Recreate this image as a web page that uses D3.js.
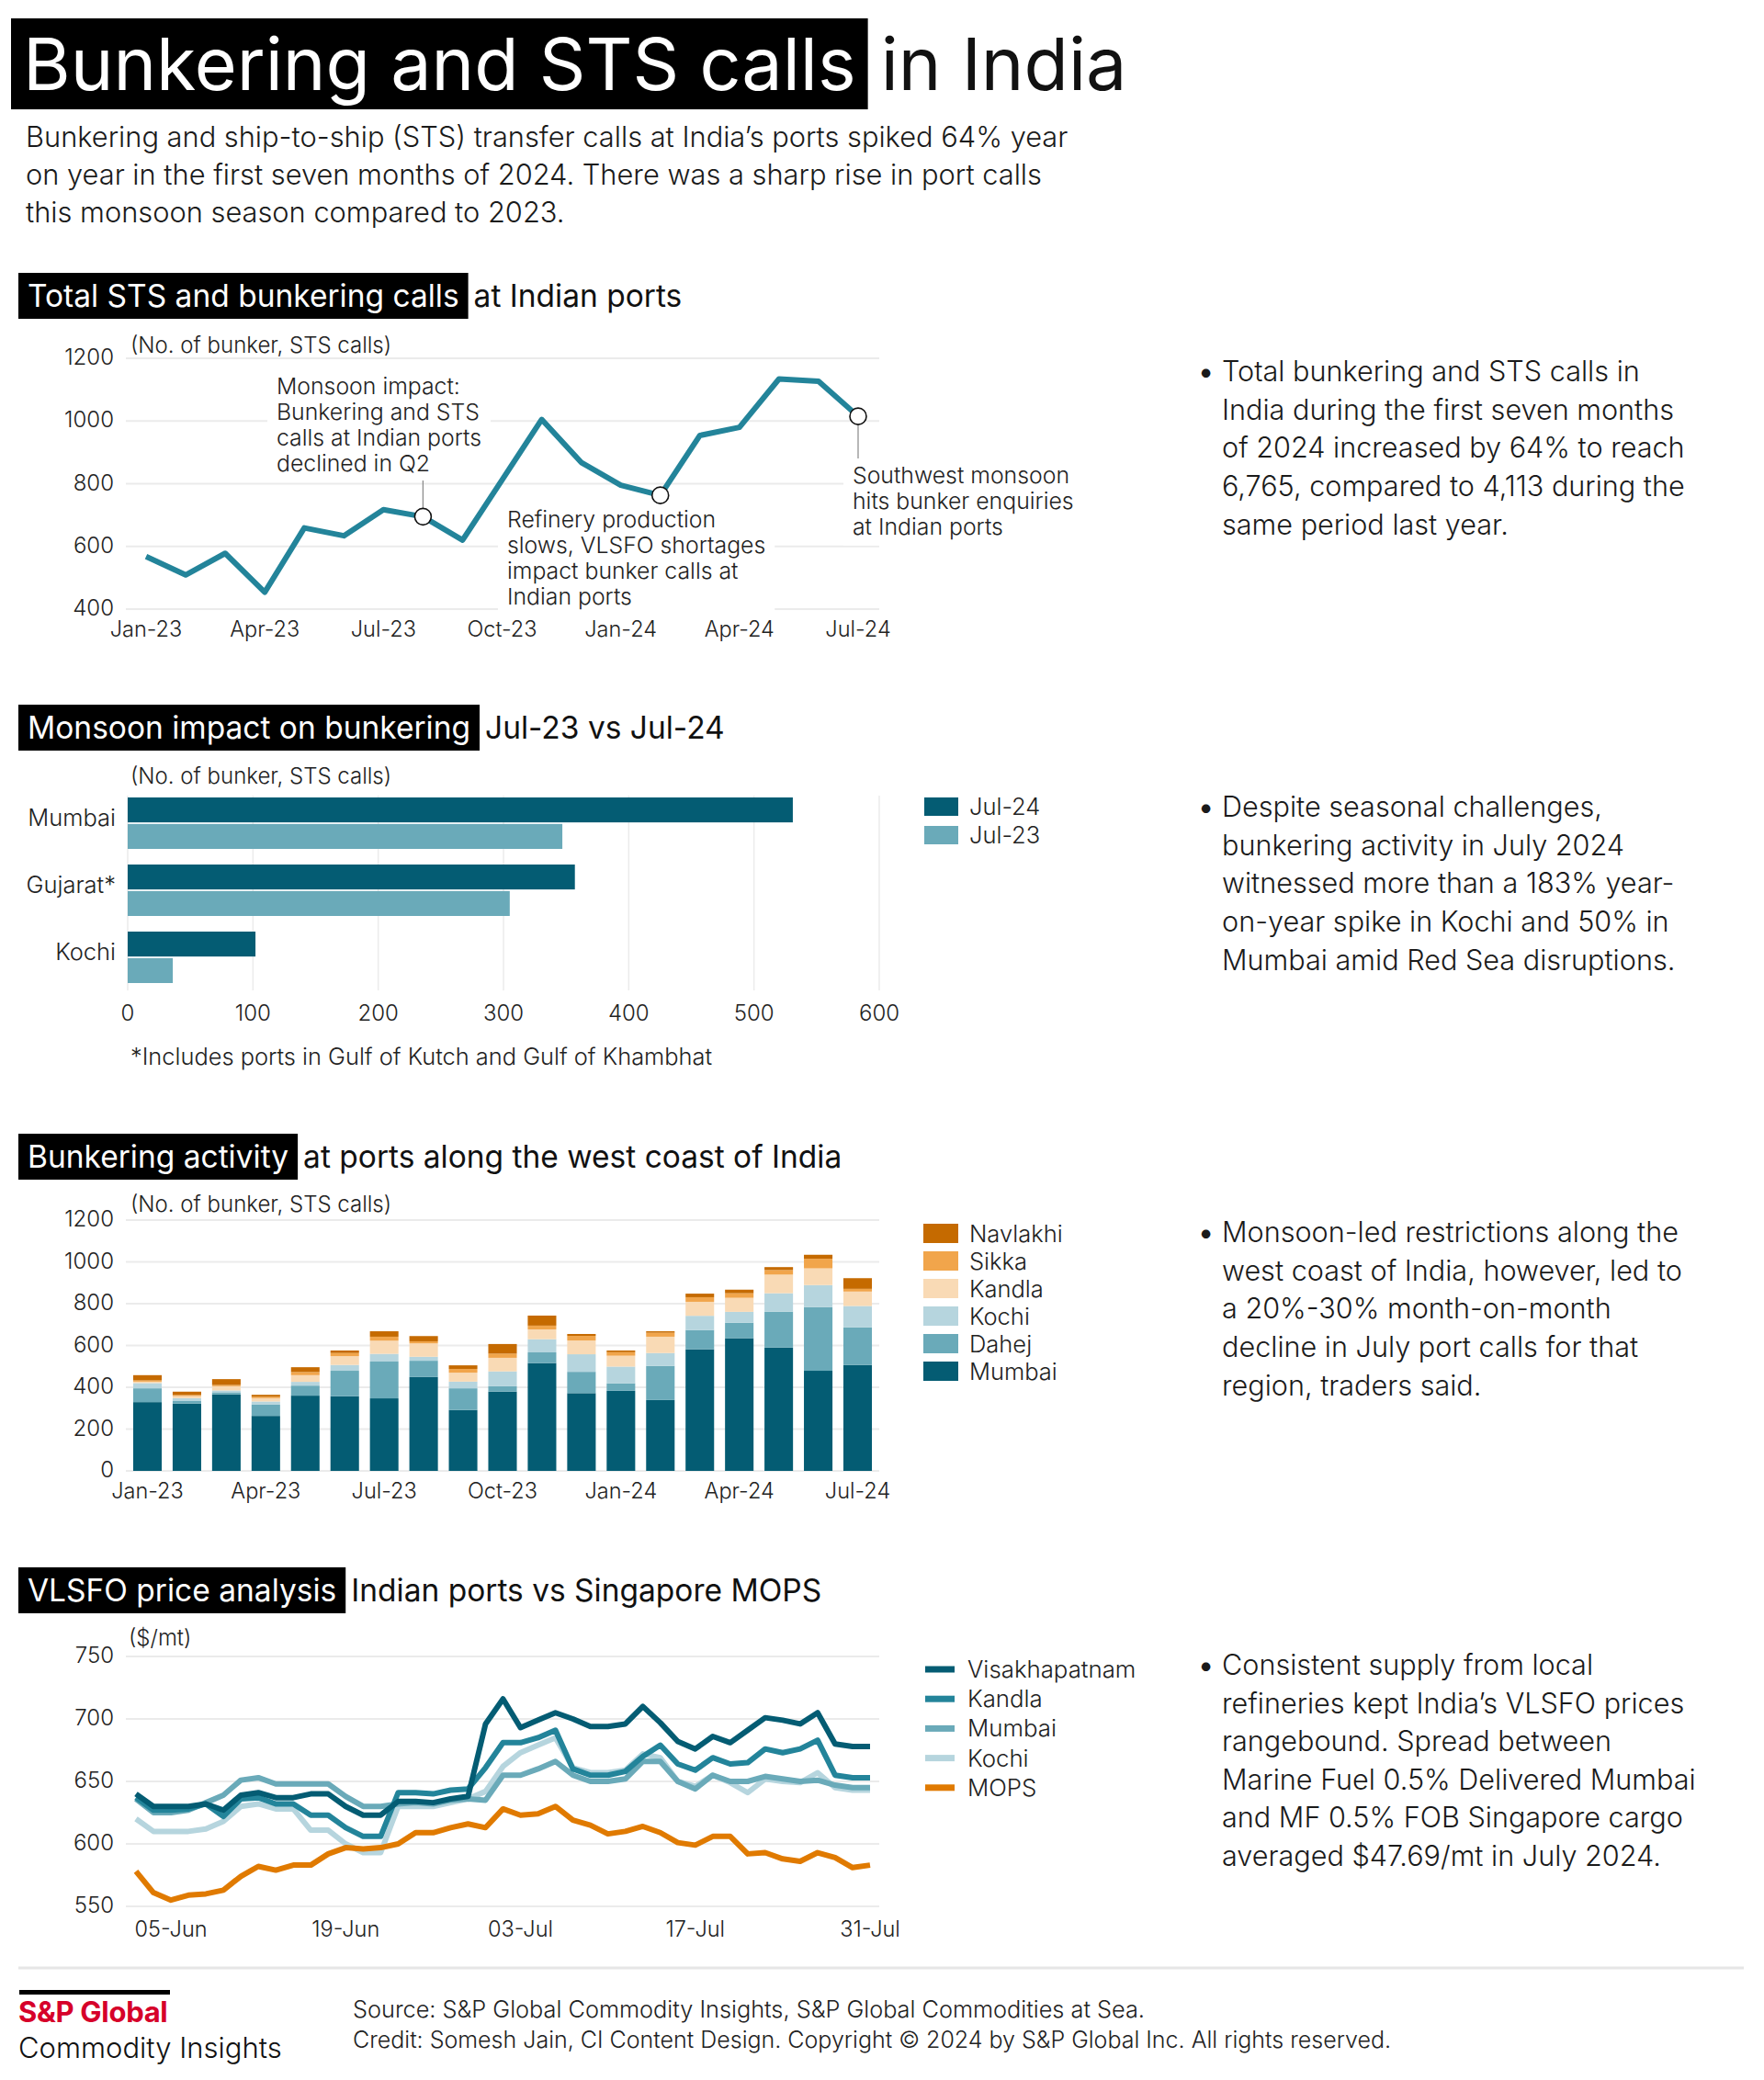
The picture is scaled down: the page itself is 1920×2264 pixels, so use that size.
<!DOCTYPE html>
<html>
<head>
<meta charset="utf-8">
<script src="https://cdn.jsdelivr.net/npm/d3@7"></script>
<style>
  body { margin: 0; background: #fff; }
  svg { display: block; font-family: Inter, Roboto, "Noto Sans", sans-serif; }
</style>
</head>
<body>
<div id="chart"></div>
<script>
// ---- data ----
const months = ["Jan-23","Feb-23","Mar-23","Apr-23","May-23","Jun-23","Jul-23","Aug-23","Sep-23","Oct-23","Nov-23","Dec-23",
  "Jan-24","Feb-24","Mar-24","Apr-24","May-24","Jun-24","Jul-24"];
const monthTicks = ["Jan-23","Apr-23","Jul-23","Oct-23","Jan-24","Apr-24","Jul-24"];
const totalCalls = [568,509,578,454,659,634,717,695,620,812,1005,868,795,763,954,980,1134,1127,1015];

const portCats = ["Mumbai","Gujarat*","Kochi"];
const calls24 = [531,357,102];
const calls23 = [347,305,36];

const mumbaiW   = [329,322,366,263,360,357,347,449,291,379,516,372,383,339,582,635,590,479,507];
const dahejW    = [66,14,10,54,48,122,176,78,104,26,51,102,36,163,92,74,172,304,180];
const kochiW    = [25,12,9,15,18,28,37,19,32,71,63,84,80,62,68,52,88,106,102];
const kandlaW   = [7,10,20,16,32,42,63,64,43,65,47,66,52,78,67,67,89,80,69];
const sikkaW    = [6,5,6,7,15,15,19,10,18,20,18,22,17,19,22,22,22,46,13];
const navlakhiW = [25,16,28,9,23,12,26,25,17,46,48,9,8,7,17,17,14,19,51];

const days = ["03-Jun","04-Jun","05-Jun","06-Jun","07-Jun","10-Jun","11-Jun","12-Jun","13-Jun","14-Jun",
  "17-Jun","18-Jun","19-Jun","20-Jun","21-Jun","24-Jun","25-Jun","26-Jun","27-Jun","28-Jun",
  "01-Jul","02-Jul","03-Jul","04-Jul","05-Jul","08-Jul","09-Jul","10-Jul","11-Jul","12-Jul",
  "15-Jul","16-Jul","17-Jul","18-Jul","19-Jul","22-Jul","23-Jul","24-Jul","25-Jul","26-Jul",
  "29-Jul","30-Jul","31-Jul"];
const dayTicks = ["05-Jun","19-Jun","03-Jul","17-Jul","31-Jul"];
const visakhapatnam = [640,630,630,630,632,627,639,641,637,637,640,640,630,623,623,634,634,633,636,638,696,
  716,693,699,705,700,694,694,696,710,697,682,676,686,681,691,701,699,696,705,680,678,678];
const kandlaP = [637,627,627,628,632,622,636,637,632,632,623,623,613,606,606,641,641,640,643,644,661,
  681,681,685,691,660,655,655,658,670,679,664,659,669,664,665,676,673,676,683,655,653,653];
const mumbaiP = [636,625,625,627,633,639,651,653,648,648,648,648,638,630,630,632,633,632,635,636,635,
  655,655,660,666,655,650,650,652,666,666,650,644,655,650,650,654,652,650,651,647,645,645];
const kochiP = [620,610,610,610,612,618,630,632,628,628,611,611,600,593,593,630,630,630,633,636,642,
  662,673,679,685,661,657,657,659,672,669,650,646,655,649,641,652,650,649,657,645,643,643];
const mops = [578,561,555,559,560,563,574,582,579,583,583,592,597,596,597,600,609,609,613,616,613,
  628,623,624,630,619,615,608,610,614,609,601,599,606,606,592,593,588,586,593,589,581,583];

// ---- setup ----
const W = 1920, H = 2264;
const svg = d3.select("#chart").append("svg").attr("width", W).attr("height", H);
svg.append("rect").attr("width", W).attr("height", H).attr("fill", "#fff");

const dark = "#045c73", mid = "#6aaab9", light = "#b6d5de";
const teal = "#23849a", orange = "#e07a00";
const ink = "#1a1a1a";
const HS = 33.5; // section header size
const BODY = 30.6;

// header with black box then plain text
function header(x, y, boxText, rest, size, boxH, padL, gap) {
  const g = svg.append("g");
  const box = g.append("rect").attr("x", x).attr("y", y).attr("height", boxH).attr("fill", "#000");
  const t1 = g.append("text").attr("x", x + padL).attr("y", y + boxH / 2).attr("dy", "0.36em")
    .attr("font-size", size).attr("fill", "#fff").text(boxText);
  const w = t1.node().getComputedTextLength();
  box.attr("width", w + padL * 2);
  g.append("text").attr("x", x + w + padL * 2 + gap).attr("y", y + boxH / 2).attr("dy", "0.36em")
    .attr("font-size", size).attr("fill", "#111").text(rest);
}

function para(x, y, lines, size, lh, bullet) {
  const t = svg.append("text").attr("font-size", size).attr("fill", ink).attr("font-weight", 300);
  lines.forEach((l, i) => t.append("tspan").attr("x", x).attr("y", y + i * lh).text(l));
  if (bullet) svg.append("text").attr("x", x - 26).attr("y", y).attr("font-size", size).attr("fill", ink).text("•");
}

function grid(g, y, ticks, x0, x1) {
  g.selectAll(null).data(ticks).join("line")
    .attr("x1", x0).attr("x2", x1).attr("y1", d => y(d)).attr("y2", d => y(d))
    .attr("stroke", "#ebebeb").attr("stroke-width", 2);
  g.selectAll(null).data(ticks).join("text")
    .attr("x", 124).attr("y", d => y(d)).attr("dy", "0.3em").attr("text-anchor", "end")
    .attr("font-size", 24).attr("font-weight", 300).attr("fill", "#222").text(d => d);
}

function label(g, x, y, txt, size, anchor) {
  return g.append("text").attr("x", x).attr("y", y).attr("dy", "0.35em").attr("text-anchor", anchor || "start")
    .attr("font-size", size).attr("font-weight", 300).attr("fill", "#222").text(txt);
}

// ---- title ----
header(12, 20, "Bunkering and STS calls", "in India", 79, 99, 13, 14);
para(28, 160, ["Bunkering and ship-to-ship (STS) transfer calls at India\u2019s ports spiked 64% year",
  "on year in the first seven months of 2024. There was a sharp rise in port calls",
  "this monsoon season compared to 2023."], 30.8, 41, false);

// ---- chart 1: total calls ----
header(20, 297, "Total STS and bunkering calls", "at Indian ports", HS, 50, 10, 6);
{
  const g = svg.append("g");
  const x = d3.scalePoint().domain(months).range([159, 934]);
  const y = d3.scaleLinear().domain([400, 1200]).range([663, 390]);
  grid(g, y, d3.range(400, 1201, 200), 137, 957);
  label(g, 142, 376, "(No. of bunker, STS calls)", 24);

  const notes = [
    { m: "Aug-23", x: 301, y: 420, lines: ["Monsoon impact:", "Bunkering and STS", "calls at Indian ports", "declined in Q2"], ly1: 523 },
    { m: "Feb-24", x: 552, y: 565, lines: ["Refinery production", "slows, VLSFO shortages", "impact bunker calls at", "Indian ports"], ly1: null },
    { m: "Jul-24", x: 928, y: 517, lines: ["Southwest monsoon", "hits bunker enquiries", "at Indian ports"], ly1: 499 }
  ];
  const texts = notes.map(n => {
    const t = g.append("text").attr("font-size", 24.8).attr("font-weight", 300).attr("fill", "#222");
    n.lines.forEach((l, i) => t.append("tspan").attr("x", n.x).attr("y", n.y + i * 28).attr("dy", "0.35em").text(l));
    return t;
  });
  texts.forEach(t => {
    const b = t.node().getBBox();
    g.insert("rect", "text").attr("x", b.x - 10).attr("y", b.y - 6).attr("width", b.width + 20).attr("height", b.height + 12).attr("fill", "#fff");
  });
  texts.forEach(t => t.raise());

  notes.filter(n => n.ly1).forEach(n => {
    const cy = y(totalCalls[months.indexOf(n.m)]);
    g.append("line").attr("x1", x(n.m)).attr("x2", x(n.m)).attr("y1", n.ly1).attr("y2", cy)
      .attr("stroke", "#888").attr("stroke-width", 1.2);
  });

  g.append("path").datum(totalCalls)
    .attr("d", d3.line().x((d, i) => x(months[i])).y(d => y(d)))
    .attr("fill", "none").attr("stroke", teal).attr("stroke-width", 6).attr("stroke-linejoin", "round");

  g.selectAll(".dot").data(notes).join("circle")
    .attr("cx", n => x(n.m)).attr("cy", n => y(totalCalls[months.indexOf(n.m)])).attr("r", 9)
    .attr("fill", "#fff").attr("stroke", "#111").attr("stroke-width", 1.6);

  monthTicks.forEach(d => label(g, x(d), 685, d, 23.5, "middle"));
}
para(1330, 415, ["Total bunkering and STS calls in", "India during the first seven months",
  "of 2024 increased by 64% to reach", "6,765, compared to 4,113 during the", "same period last year."], BODY, 41.7, true);

// ---- chart 2: Jul-23 vs Jul-24 ----
header(20, 767, "Monsoon impact on bunkering", "Jul-23 vs Jul-24", HS, 50, 10, 6);
{
  const g = svg.append("g");
  const x = d3.scaleLinear().domain([0, 600]).range([139, 957]);
  const y = d3.scaleBand().domain(portCats).range([868, 1070]).paddingInner(0.233);
  const ySub = d3.scaleBand().domain(["Jul-24", "Jul-23"]).range([0, y.bandwidth()]).paddingInner(0.06);
  label(g, 142, 845, "(No. of bunker, STS calls)", 24);
  g.selectAll(".vg").data(x.ticks(6)).join("line")
    .attr("x1", d => x(d)).attr("x2", d => x(d)).attr("y1", 866).attr("y2", 1078)
    .attr("stroke", "#ebebeb").attr("stroke-width", 1.5);
  x.ticks(6).forEach(d => label(g, x(d), 1103, d, 24, "middle"));
  const rows = portCats.map((c, i) => ({ c, v24: calls24[i], v23: calls23[i] }));
  g.selectAll(".b24").data(rows).join("rect")
    .attr("x", x(0)).attr("y", d => y(d.c) + ySub("Jul-24")).attr("height", ySub.bandwidth())
    .attr("width", d => x(d.v24) - x(0)).attr("fill", dark);
  g.selectAll(".b23").data(rows).join("rect")
    .attr("x", x(0)).attr("y", d => y(d.c) + ySub("Jul-23")).attr("height", ySub.bandwidth())
    .attr("width", d => x(d.v23) - x(0)).attr("fill", mid);
  portCats.forEach(d => label(g, 126, y(d) + y.bandwidth() / 2 - 6, d, 25.5, "end"));
  label(g, 142, 1150, "*Includes ports in Gulf of Kutch and Gulf of Khambhat", 25.4);
  const leg = [["Jul-24", dark], ["Jul-23", mid]];
  leg.forEach((l, i) => {
    g.append("rect").attr("x", 1006).attr("y", 868 + i * 31).attr("width", 37).attr("height", 20).attr("fill", l[1]);
    label(g, 1055, 878 + i * 31, l[0], 25.5);
  });
}
para(1330, 889, ["Despite seasonal challenges,", "bunkering activity in July 2024",
  "witnessed more than a 183% year-", "on-year spike in Kochi and 50% in", "Mumbai amid Red Sea disruptions."], BODY, 41.7, true);

// ---- chart 3: stacked west coast ----
header(20, 1234, "Bunkering activity", "at ports along the west coast of India", HS, 50, 10, 6);
{
  const g = svg.append("g");
  const keys = ["Mumbai", "Dahej", "Kochi", "Kandla", "Sikka", "Navlakhi"];
  const cols = { Mumbai: dark, Dahej: mid, Kochi: light, Kandla: "#f9dab5", Sikka: "#f1a54b", Navlakhi: "#c56a00" };
  const series = { Mumbai: mumbaiW, Dahej: dahejW, Kochi: kochiW, Kandla: kandlaW, Sikka: sikkaW, Navlakhi: navlakhiW };
  const table = months.map((m, i) => {
    const r = { m };
    keys.forEach(k => r[k] = series[k][i]);
    return r;
  });
  const stack = d3.stack().keys(keys)(table);
  const x = d3.scaleBand().domain(months).range([139, 955]).paddingInner(0.277).paddingOuter(0.139);
  const y = d3.scaleLinear().domain([0, 1200]).range([1601, 1328]);
  grid(g, y, d3.range(0, 1201, 200), 137, 957);
  label(g, 142, 1311, "(No. of bunker, STS calls)", 24);
  g.selectAll(".layer").data(stack).join("g").attr("fill", d => cols[d.key])
    .selectAll("rect").data(d => d).join("rect")
    .attr("x", d => x(d.data.m)).attr("width", x.bandwidth())
    .attr("y", d => y(d[1])).attr("height", d => y(d[0]) - y(d[1]));
  monthTicks.forEach(d => label(g, x(d) + x.bandwidth() / 2, 1623, d, 23.5, "middle"));
  keys.slice().reverse().forEach((k, i) => {
    g.append("rect").attr("x", 1005).attr("y", 1332 + i * 30).attr("width", 38).attr("height", 21).attr("fill", cols[k]);
    label(g, 1055, 1343 + i * 30, k, 25.5);
  });
}
para(1330, 1352, ["Monsoon-led restrictions along the", "west coast of India, however, led to",
  "a 20%-30% month-on-month", "decline in July port calls for that", "region, traders said."], BODY, 41.7, true);

// ---- chart 4: VLSFO prices ----
header(20, 1706, "VLSFO price analysis", "Indian ports vs Singapore MOPS", HS, 50, 10, 6);
{
  const g = svg.append("g");
  const x = d3.scalePoint().domain(days).range([148, 947]);
  const y = d3.scaleLinear().domain([550, 750]).range([2075, 1803]);
  grid(g, y, d3.range(550, 751, 50), 137, 957);
  label(g, 140, 1783, "($/mt)", 24);
  const lines = [
    { name: "Kochi", v: kochiP, c: light },
    { name: "Mumbai", v: mumbaiP, c: mid },
    { name: "Kandla", v: kandlaP, c: teal },
    { name: "Visakhapatnam", v: visakhapatnam, c: dark },
    { name: "MOPS", v: mops, c: orange }
  ];
  const line = d3.line().x((d, i) => x(days[i])).y(d => y(d));
  g.selectAll(".ln").data(lines).join("path")
    .attr("d", d => line(d.v)).attr("fill", "none").attr("stroke", d => d.c)
    .attr("stroke-width", 6).attr("stroke-linejoin", "round");
  dayTicks.forEach(d => label(g, x(d), 2100, d, 23.5, "middle"));
  const legOrder = ["Visakhapatnam", "Kandla", "Mumbai", "Kochi", "MOPS"];
  legOrder.forEach((n, i) => {
    const l = lines.find(d => d.name === n);
    g.append("line").attr("x1", 1007).attr("x2", 1039).attr("y1", 1817 + i * 32.2).attr("y2", 1817 + i * 32.2)
      .attr("stroke", l.c).attr("stroke-width", 7);
    label(g, 1053, 1817 + i * 32.2, n, 25.8);
  });
}
para(1330, 1823, ["Consistent supply from local", "refineries kept India\u2019s VLSFO prices",
  "rangebound. Spread between", "Marine Fuel 0.5% Delivered Mumbai", "and MF 0.5% FOB Singapore cargo",
  "averaged $47.69/mt in July 2024."], BODY, 41.5, true);

// ---- footer ----
svg.append("line").attr("x1", 20).attr("x2", 1898).attr("y1", 2142).attr("y2", 2142).attr("stroke", "#e6e6e6").attr("stroke-width", 3);
svg.append("rect").attr("x", 21).attr("y", 2166).attr("width", 164).attr("height", 5).attr("fill", "#000");
svg.append("text").attr("x", 20).attr("y", 2190).attr("dy", "0.35em").attr("font-size", 31).attr("font-weight", 700)
  .attr("fill", "#d6002a").attr("letter-spacing", -0.3).text("S&P Global");
svg.append("text").attr("x", 20).attr("y", 2229).attr("dy", "0.35em").attr("font-size", 31).attr("font-weight", 300).attr("fill", "#111").text("Commodity Insights");
label(svg, 384, 2187, "Source: S&P Global Commodity Insights, S&P Global Commodities at Sea.", 25.3);
label(svg, 384, 2220, "Credit: Somesh Jain, CI Content Design.  Copyright \u00a9 2024 by S&P Global Inc.  All rights reserved.", 25);
</script>
</body>
</html>
